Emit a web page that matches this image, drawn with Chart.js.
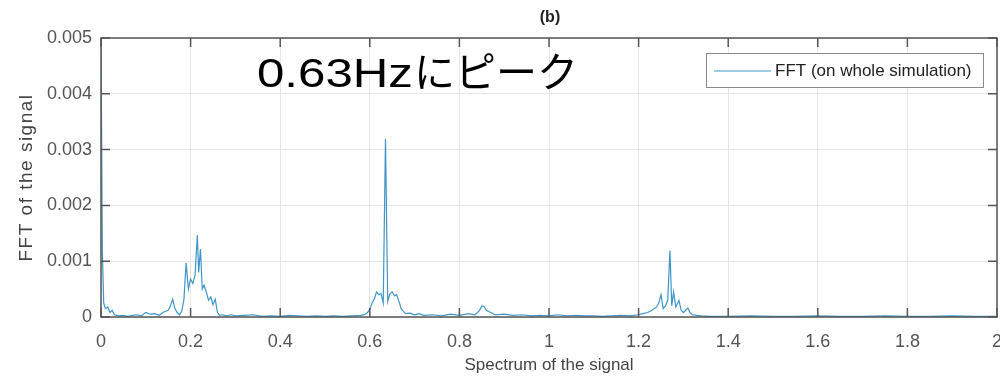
<!DOCTYPE html>
<html>
<head>
<meta charset="utf-8">
<script src="https://cdn.jsdelivr.net/npm/chart.js@4.4.1/dist/chart.umd.min.js"></script>
<style>
  html, body { margin: 0; padding: 0; background: #fff; }
  #wrap { width: 1000px; height: 384px; }
</style>
</head>
<body>
<div id="wrap"><canvas id="fftChart" width="1000" height="384"></canvas></div>
<script>
// frequencies (Hz) and FFT amplitudes
const freqs = [
  0, 0.003, 0.006, 0.01, 0.015, 0.02, 0.025, 0.03, 0.04, 0.05, 0.06, 0.07, 0.08, 0.09,
  0.1, 0.11, 0.12, 0.13, 0.14, 0.15, 0.155, 0.16, 0.165, 0.17, 0.175, 0.18, 0.185,
  0.19, 0.195, 0.2, 0.205, 0.21, 0.215, 0.218, 0.222, 0.226, 0.23, 0.235, 0.24, 0.245,
  0.25, 0.255, 0.26, 0.265, 0.27, 0.28, 0.29, 0.3, 0.32, 0.34, 0.36, 0.38, 0.4, 0.42,
  0.44, 0.46, 0.48, 0.5, 0.52, 0.54, 0.56, 0.58, 0.59, 0.595, 0.6, 0.605, 0.61, 0.615,
  0.62, 0.625, 0.63, 0.635, 0.64, 0.645, 0.65, 0.655, 0.66, 0.665, 0.67, 0.675, 0.68,
  0.69, 0.7, 0.71, 0.72, 0.74, 0.76, 0.78, 0.8, 0.82, 0.835, 0.845, 0.85, 0.855, 0.86,
  0.87, 0.88, 0.9, 0.92, 0.94, 0.96, 0.98, 1.0, 1.02, 1.04, 1.06, 1.08, 1.1, 1.12, 1.14,
  1.16, 1.18, 1.2, 1.21, 1.22, 1.23, 1.24, 1.245, 1.25, 1.255, 1.26, 1.265, 1.27, 1.274,
  1.278, 1.283, 1.29, 1.295, 1.3, 1.31, 1.315, 1.32, 1.33, 1.34, 1.36, 1.4, 1.45, 1.5,
  1.55, 1.6, 1.65, 1.7, 1.75, 1.8, 1.85, 1.9, 1.95, 2.0
];
const amps = [
  0.0050, 0.0012, 0.00025, 0.00015, 0.00018, 0.00008, 0.00012, 0.00004, 0.00002, 0.00003, 0.00001, 0.00003, 0.00004, 0.00002,
  0.00008, 0.00005, 0.00006, 0.00003, 0.00009, 0.00012, 0.0002, 0.00032, 0.00015, 0.00008, 0.00004, 0.0001, 0.0003,
  0.00097, 0.0005, 0.00068, 0.0006, 0.00075, 0.00147, 0.0008, 0.00122, 0.0005, 0.00057, 0.00045, 0.0003, 0.00036,
  0.00022, 0.00032, 0.00008, 0.00003, 0.00004, 0.00002, 0.00004, 0.00002, 0.00003, 0.00004, 0.00001, 0.00002, 0.00001, 0.00003,
  0.00002, 0.00001, 0.00002, 0.00001, 0.00002, 0.00001, 0.00002, 0.00003, 0.00005, 0.00008, 0.00014, 0.00025, 0.00032, 0.00045,
  0.0004, 0.00042, 0.00025, 0.00319, 0.00028, 0.00042, 0.00045, 0.00038, 0.0004, 0.00028, 0.00015, 0.0001, 0.00006,
  0.00007, 0.00004, 0.00006, 0.00003, 0.00004, 0.00002, 0.00005, 0.00003, 0.00006, 0.00004, 0.00012, 0.0002, 0.00019, 0.00012,
  0.00008, 0.00004, 0.00005, 0.00003, 0.00004, 0.00002, 0.00003, 0.00002, 0.00004, 0.00002, 0.00003, 0.00002, 0.00002, 0.00001, 0.00002,
  0.00003, 0.00002, 0.00004, 0.00006, 0.00008, 0.00012, 0.00018, 0.00025, 0.0004, 0.00015, 0.0002, 0.0003, 0.00119, 0.0002,
  0.00045, 0.00018, 0.0003, 0.00012, 0.00008, 0.00016, 0.00008, 0.00004, 0.00003, 0.00002, 0.00001, 0.00001, 0.00002, 0.00001,
  0.00001, 0.00002, 0.00001, 0.00001, 0.00002, 0.00001, 0.00001, 0.00002, 0.00001, 0.00001
];
const xTicks = [0, 0.2, 0.4, 0.6, 0.8, 1, 1.2, 1.4, 1.6, 1.8, 2];
const yTicks = [0, 0.001, 0.002, 0.003, 0.004, 0.005];

const lineColor = "#4096c8";
const axisColor = "#555555";
const labelFont = "'Liberation Sans', Arial, sans-serif";

// MATLAB-like box, inner tick marks, titles, annotation and legend
const decorations = {
    id: "decorations",
    afterDatasetsDraw(chart) {
        const {ctx, chartArea: a, scales: {x, y}} = chart;
        ctx.save();
        ctx.strokeStyle = axisColor;
        ctx.lineWidth = 1.5;
        ctx.strokeRect(a.left, a.top, a.right - a.left, a.bottom - a.top);
        ctx.beginPath();
        xTicks.forEach(v => {
            const px = x.getPixelForValue(v);
            ctx.moveTo(px, a.bottom); ctx.lineTo(px, a.bottom - 9);
            ctx.moveTo(px, a.top); ctx.lineTo(px, a.top + 9);
        });
        yTicks.forEach(v => {
            const py = y.getPixelForValue(v);
            ctx.moveTo(a.left, py); ctx.lineTo(a.left + 9, py);
            ctx.moveTo(a.right, py); ctx.lineTo(a.right - 9, py);
        });
        ctx.stroke();

        // panel title
        ctx.fillStyle = "#222";
        ctx.font = "bold 16px " + labelFont;
        ctx.textAlign = "center";
        ctx.textBaseline = "middle";
        ctx.fillText("(b)", 550, 18);

        // axis titles
        ctx.fillStyle = "#444";
        ctx.font = "17px " + labelFont;
        ctx.fillText("Spectrum of the signal", (a.left + a.right) / 2, 365);
        ctx.save();
        ctx.translate(27, (a.top + a.bottom) / 2);
        ctx.rotate(-Math.PI / 2);
        ctx.font = "19px " + labelFont;
        ctx.letterSpacing = "1.5px";
        ctx.fillText("FFT of the signal", 0, 0);
        ctx.restore();

        // annotation
        ctx.fillStyle = "#000";
        ctx.textAlign = "left";
        ctx.textBaseline = "alphabetic";
        ctx.font = "41px 'Liberation Sans', 'Noto Sans CJK JP', sans-serif";
        ctx.save();
        ctx.translate(257, 87);
        ctx.scale(1.2, 1);
        ctx.fillText("0.63Hz", 0, 0);
        const w1 = ctx.measureText("0.63Hz").width * 1.2;
        ctx.restore();
        ctx.fillText("にピーク", 257 + w1 + 1, 87);

        // legend box
        ctx.fillStyle = "#fff";
        ctx.fillRect(706, 53, 277, 34);
        ctx.strokeStyle = "#8a8a8a";
        ctx.lineWidth = 1;
        ctx.strokeRect(706.5, 53.5, 277, 34);
        ctx.strokeStyle = lineColor;
        ctx.lineWidth = 1.2;
        ctx.beginPath();
        ctx.moveTo(714, 71); ctx.lineTo(771, 71);
        ctx.stroke();
        ctx.fillStyle = "#222";
        ctx.font = "17px " + labelFont;
        ctx.textBaseline = "middle";
        ctx.fillText("FFT (on whole simulation)", 775, 71);
        ctx.restore();
    }
};

const ctx = document.getElementById("fftChart").getContext("2d");
new Chart(ctx, {
    type: "line",
    data: {
        datasets: [{
            label: "FFT (on whole simulation)",
            data: freqs.map((f, i) => ({x: f, y: amps[i]})),
            borderColor: lineColor,
            borderWidth: 1.2,
            pointRadius: 0,
            tension: 0,
            fill: false
        }]
    },
    options: {
        responsive: false,
        animation: false,
        layout: { padding: { top: 38, right: 3, left: 0, bottom: 0 } },
        plugins: {
            legend: { display: false },
            tooltip: { enabled: false }
        },
        scales: {
            x: {
                type: "linear",
                min: 0,
                max: 2,
                afterBuildTicks: s => { s.ticks = xTicks.map(v => ({value: v})); },
                afterFit: s => { s.height = 67; s.paddingLeft = 0; s.paddingRight = 0; },
                grid: { color: "#e6e6e6", drawTicks: false },
                border: { display: false },
                ticks: {
                    padding: 14,
                    color: axisColor,
                    font: { family: labelFont, size: 18 },
                    maxRotation: 0,
                    callback: v => String(v)
                }
            },
            y: {
                min: 0,
                max: 0.005,
                afterBuildTicks: s => { s.ticks = yTicks.map(v => ({value: v})); },
                afterFit: s => { s.width = 101; s.paddingTop = 0; s.paddingBottom = 0; },
                grid: { color: "#e6e6e6", drawTicks: false },
                border: { display: false },
                ticks: {
                    padding: 9,
                    color: axisColor,
                    font: { family: labelFont, size: 18 },
                    callback: v => String(v)
                }
            }
        }
    },
    plugins: [decorations]
});
</script>
</body>
</html>
